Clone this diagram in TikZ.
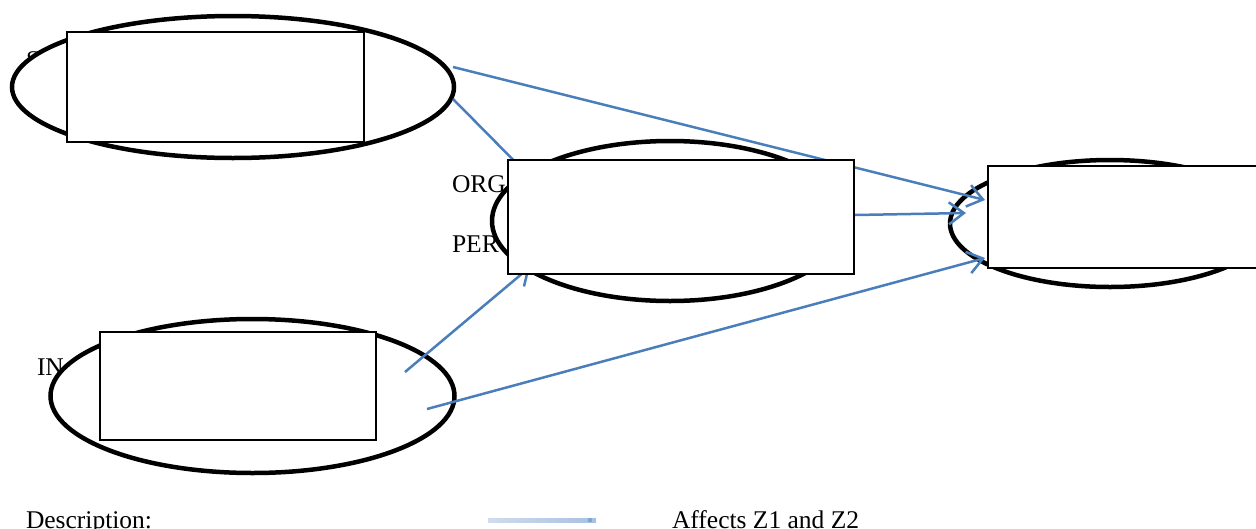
\documentclass[tikz,border=0pt]{standalone}
\usepackage{fontspec}
\setmainfont{Liberation Serif}
\usetikzlibrary{shapes.geometric,arrows.meta}
\definecolor{linkblue}{RGB}{74,126,187}
\definecolor{legendlight}{RGB}{208,220,238}
\definecolor{legenddark}{RGB}{168,192,226}
\begin{document}
\begin{tikzpicture}[x=1pt,y=-1pt,
  every node/.style={font=\fontsize{25.5}{30}\selectfont},
  lbl/.style={anchor=base west, inner sep=0pt, outer sep=0pt},
  oval/.style={ellipse, draw=black, line width=4.5pt, fill=white, inner sep=0pt},
  box/.style={rectangle, draw=black, line width=1.2pt, fill=white, inner sep=0pt},
  link/.style={draw=linkblue, line width=2.5pt, -{Straight Barb[length=15pt,width=22pt]}}
]
\useasboundingbox (0,0) rectangle (1256,528);
\clip (0,0) rectangle (1256,528);

% labels (partly covered by the ovals and boxes)
\node[lbl] (tS)   at (26,68)  {S};
\node[lbl] (tORG) at (452,192) {ORG};
\node[lbl] (tPER) at (452,252) {PER};
\node[lbl] (tIN)  at (37,375) {IN};

% ovals
\node[oval, minimum width=442pt, minimum height=142pt] (o1) at (233,87) {};
\node[oval, minimum width=356pt, minimum height=160pt] (o2) at (670,221) {};
\node[oval, minimum width=320pt, minimum height=127pt] (o3) at (1110,223.5) {};
\node[oval, minimum width=404pt, minimum height=154pt] (o4) at (252.5,396) {};

% connector end points
\coordinate (a1) at (453,67);   \coordinate (a2) at (985,200);
\coordinate (b1) at (453,99);   \coordinate (b2) at (540,187);
\coordinate (c1) at (855,215);  \coordinate (c2) at (966,213);
\coordinate (d1) at (405,372);  \coordinate (d2) at (530,267);
\coordinate (e1) at (427,409);  \coordinate (e2) at (985,258);

\draw[link] (a1) -- (a2);
\draw[link] (b1) -- (b2);
\draw[link] (c1) -- (c2);
\draw[link] (d1) -- (d2);
\draw[link] (e1) -- (e2);

% boxes
\node[box, minimum width=297pt, minimum height=110pt] (r1) at (215.5,87) {};
\node[box, minimum width=346pt, minimum height=114pt] (r2) at (681,217) {};
\node[box, minimum width=280pt, minimum height=102pt] (r3) at (1128,217) {};
\node[box, minimum width=276pt, minimum height=108pt] (r4) at (238,386) {};

% legend
\node[lbl] (desc) at (26,528) {Description:};
\coordinate (leg1) at (488,518);
\coordinate (leg2) at (596,522);
\shade[left color=legendlight, right color=legenddark] (leg1) rectangle (leg2);
\fill[linkblue!70] ([xshift=-8pt]leg2) rectangle ([xshift=-4pt,yshift=4pt]leg2);
\node[lbl] (aff) at (672,528) {Affects Z1 and Z2};
\end{tikzpicture}
\end{document}
